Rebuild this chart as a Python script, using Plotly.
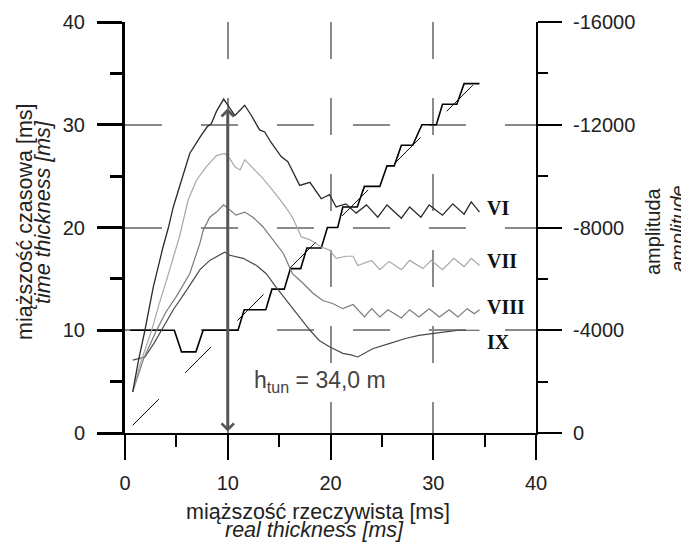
import plotly.graph_objects as go

# ---------------- data ----------------
# amplitude curves (right axis, amplitude units)
vi_x = [0.75, 1.3, 1.94, 2.75, 3.7, 4.2, 4.7, 5.5, 6.3, 7.3, 8.0, 8.4, 8.9, 9.6, 10.7, 11.65, 12.3, 13.1, 13.6,
        14.2, 15.2, 15.85, 17.0, 18.0, 19.1, 19.9, 20.55, 21.5, 22.5, 23.5, 24.6, 25.5, 26.9, 27.7, 28.8, 29.6,
        30.9, 31.9, 33.0, 33.7, 34.5]
vi_amp = [-1600, -2800, -4000, -5680, -7240, -7960, -8800, -9840, -10880, -11520, -11920, -12040, -12520, -13000,
          -12360, -12760, -12360, -11800, -11720, -11320, -10760, -10560, -9640, -9760, -9120, -9280, -8800, -8920,
          -8560, -8880, -8400, -8880, -8360, -8800, -8400, -8880, -8480, -8920, -8520, -9000, -8600]

vii_x = [0.75, 1.5, 2.6, 3.3, 4.05, 5.3, 6.15, 6.95, 7.9, 8.9, 9.7, 10.2, 10.7, 11.2, 11.65, 12.6, 13.4, 14.4,
         15.4, 16.3, 17.15, 18.0, 19.1, 19.9, 20.55, 21.5, 22.2, 22.65, 24.0, 24.8, 25.7, 26.9, 27.7, 29.0, 29.8,
         30.9, 32.0, 33.0, 33.7, 34.5]
vii_amp = [-1600, -2720, -4000, -5000, -5960, -7640, -9080, -9840, -10360, -10800, -10880, -10680, -10360, -10240,
           -10640, -10240, -9920, -9440, -8920, -8400, -7640, -7520, -7240, -7120, -6800, -6880, -6880, -6520, -6720,
           -6360, -6680, -6360, -6720, -6400, -6720, -6360, -6800, -6480, -6800, -6520]

viii_x = [0.75, 1.8, 3.07, 4.0, 5.0, 6.3, 7.3, 7.6, 8.25, 8.9, 9.6, 10.2, 10.8, 11.65, 12.45, 13.4, 14.4, 15.4,
          16.3, 17.3, 18.3, 19.25, 20.2, 21.2, 22.2, 23.3, 24.0, 24.8, 25.6, 26.9, 27.7, 28.6, 29.6, 30.6, 31.55,
          32.4, 33.3, 34.0, 34.5]
viii_amp = [-1600, -2880, -4000, -4720, -5320, -6200, -7400, -7880, -8400, -8600, -8880, -8680, -8480, -8600, -8400,
            -8040, -7520, -7000, -6200, -5840, -5440, -5160, -5040, -4840, -5000, -4520, -4840, -4520, -4800, -4480,
            -4800, -4520, -4840, -4520, -4800, -4520, -4840, -4640, -4800]

ix_x = [0.75, 1.94, 2.8, 3.55, 4.7, 6.0, 7.3, 8.25, 9.7, 10.2, 11.5, 12.8, 13.75, 14.7, 15.7, 16.7, 18.0, 18.9,
        19.9, 21.2, 22.0, 22.65, 24.1, 25.7, 27.3, 28.6, 29.9, 31.2, 32.5, 34.5]
ix_amp = [-2840, -2960, -3480, -4000, -4800, -5560, -6360, -6720, -7040, -6920, -6800, -6520, -6200, -5680, -5160,
          -4640, -4000, -3600, -3360, -3100, -3040, -2960, -3280, -3480, -3680, -3800, -3880, -3940, -4000, -4000]

# time thickness vs real thickness (left axis, ms)
step_x = [0.5, 4.8, 5.5, 6.9, 7.6, 11.0, 11.6, 13.7, 14.3, 15.5, 16.1, 17.1, 17.7, 19.1, 19.7, 20.7, 21.2, 22.6,
          23.3, 24.8, 25.5, 26.2, 26.9, 28.0, 28.9, 30.3, 30.9, 32.3, 33.0, 34.5]
step_y = [10, 10, 7.9, 7.9, 10, 10, 12, 12, 14, 14, 16, 16, 18, 18, 20, 20, 22, 22,
          24, 24, 26, 26, 28, 28, 30, 30, 32, 32, 34, 34]

# reference line time = real
diag_x = [0.75, 34.5]
diag_y = [0.75, 34.5]

curve_labels = ["VI", "VII", "VIII", "IX"]
label_y = [21.9, 16.7, 12.3, 8.9]

x_ticks = [0, 10, 20, 30, 40]
y_ticks = [0, 10, 20, 30, 40]
amp_ticks = [0, -4000, -8000, -12000, -16000]
amp_ticktext = ["0", "-4000", "-8000", "-12000", "-16000"]

arrow_x = 10
arrow_y = [0, 31.6]
tuning_text = "h<sub>tun</sub> = 34,0 m"

# ---------------- figure ----------------
FONT = "Liberation Sans, Arial, sans-serif"
fig = go.Figure()

fig.add_trace(go.Scatter(x=diag_x, y=diag_y, mode="lines",
                         line=dict(color="#111111", width=1, dash="37px,37px"), yaxis="y"))
fig.add_trace(go.Scatter(x=ix_x, y=ix_amp, mode="lines", line=dict(color="#4a4a4a", width=1.2), yaxis="y2"))
fig.add_trace(go.Scatter(x=viii_x, y=viii_amp, mode="lines", line=dict(color="#7a7a7a", width=1.2), yaxis="y2"))
fig.add_trace(go.Scatter(x=vii_x, y=vii_amp, mode="lines", line=dict(color="#a8a8a8", width=1.2), yaxis="y2"))
fig.add_trace(go.Scatter(x=vi_x, y=vi_amp, mode="lines", line=dict(color="#2a2a2a", width=1.3), yaxis="y2"))
fig.add_trace(go.Scatter(x=step_x, y=step_y, mode="lines", line=dict(color="#000000", width=1.6), yaxis="y"))

grid_dash = "37px,39px"

# the page body adds an 8 px offset, so the figure is 8 px smaller on each axis
fig.update_layout(
    width=681, height=539,
    margin=dict(l=117, r=153, t=14, b=114),
    plot_bgcolor="white", paper_bgcolor="white",
    showlegend=False,
    font=dict(family=FONT, size=20, color="#222222"),
    xaxis=dict(range=[0, 40], tickmode="array", tickvals=x_ticks, automargin=False,
               showline=True, linecolor="#000", linewidth=1.5,
               ticks="outside", ticklen=25, tickwidth=2, tickcolor="#000",
               minor=dict(dtick=5, tick0=0, ticklen=12, tickwidth=2, tickcolor="#000", showgrid=False),
               showgrid=True, gridcolor="#8a8a8a", gridwidth=1.5, griddash=grid_dash,
               zeroline=False, ticklabelstandoff=6,
               tickfont=dict(size=20, color="#222")),
    yaxis=dict(range=[0, 40], tickmode="array", tickvals=y_ticks, automargin=False,
               showline=True, linecolor="#000", linewidth=3,
               ticks="outside", ticklen=25, tickwidth=3, tickcolor="#000",
               minor=dict(dtick=5, tick0=0, ticklen=12, tickwidth=2.5, tickcolor="#000", showgrid=False),
               showgrid=True, gridcolor="#8a8a8a", gridwidth=1.5, griddash=grid_dash,
               zeroline=False, ticklabelstandoff=8,
               tickfont=dict(size=20, color="#222")),
    yaxis2=dict(range=[0, -16000], overlaying="y", side="right", anchor="x", automargin=False,
                tickmode="array", tickvals=amp_ticks, ticktext=amp_ticktext,
                showline=True, linecolor="#000", linewidth=2,
                ticks="outside", ticklen=24, tickwidth=2, tickcolor="#000",
                minor=dict(tickmode="linear", dtick=2000, tick0=0, ticklen=10, tickwidth=2, tickcolor="#000",
                           showgrid=False),
                showgrid=False, zeroline=False, ticklabelstandoff=7,
                tickfont=dict(size=20, color="#222")),
)

ann = []
# double arrow
ann.append(dict(x=arrow_x, y=arrow_y[1], ax=arrow_x, ay=arrow_y[0], xref="x", yref="y", axref="x", ayref="y",
                text="", showarrow=True, arrowhead=4, startarrowhead=4, arrowside="end+start",
                arrowwidth=3, arrowsize=0.8, startarrowsize=0.8, arrowcolor="#555555", standoff=0, startstandoff=0))
ann.append(dict(x=19.0, y=5.0, xref="x", yref="y", text=tuning_text, showarrow=False,
                font=dict(family=FONT, size=23, color="#444444"), xanchor="center", yanchor="middle"))
for lab, ly in zip(curve_labels, label_y):
    ann.append(dict(x=35.0, y=ly, xref="x", yref="y", text="<b>" + lab + "</b>", showarrow=False,
                    xanchor="left", yanchor="middle",
                    font=dict(family="Liberation Serif, Times New Roman, serif", size=20, color="#111")))


# page-pixel positions -> paper fraction (plot area spans x 125..536, y 22..433 on the page)
def px2paper_x(px):
    return (px - 125) / 411.0


def px2paper_y(py):
    return (433 - py) / 411.0


# axis titles
ann.append(dict(x=px2paper_x(318), y=px2paper_y(512), xref="paper", yref="paper", showarrow=False,
                text="miąższość rzeczywista [ms]", xanchor="center", yanchor="middle",
                font=dict(family=FONT, size=21.5, color="#222")))
ann.append(dict(x=px2paper_x(314), y=px2paper_y(530), xref="paper", yref="paper", showarrow=False,
                text="<i>real thickness [ms]</i>", xanchor="center", yanchor="middle",
                font=dict(family=FONT, size=21.5, color="#222")))
ann.append(dict(x=px2paper_x(25), y=px2paper_y(222), xref="paper", yref="paper", showarrow=False,
                text="miąższość czasowa [ms]", textangle=-90, xanchor="center", yanchor="middle",
                font=dict(family=FONT, size=21.5, color="#222")))
ann.append(dict(x=px2paper_x(43), y=px2paper_y(212), xref="paper", yref="paper", showarrow=False,
                text="<i>time thickness [ms]</i>", textangle=-90, xanchor="center", yanchor="middle",
                font=dict(family=FONT, size=21.5, color="#222")))
ann.append(dict(x=px2paper_x(653), y=px2paper_y(231), xref="paper", yref="paper", showarrow=False,
                text="amplituda", textangle=-90, xanchor="center", yanchor="middle",
                font=dict(family=FONT, size=20, color="#222")))
ann.append(dict(x=px2paper_x(678), y=px2paper_y(229), xref="paper", yref="paper", showarrow=False,
                text="<i>amplitude</i>", textangle=-90, xanchor="center", yanchor="middle",
                font=dict(family=FONT, size=20, color="#222")))

fig.update_layout(annotations=ann)
fig.write_html("out.html")
